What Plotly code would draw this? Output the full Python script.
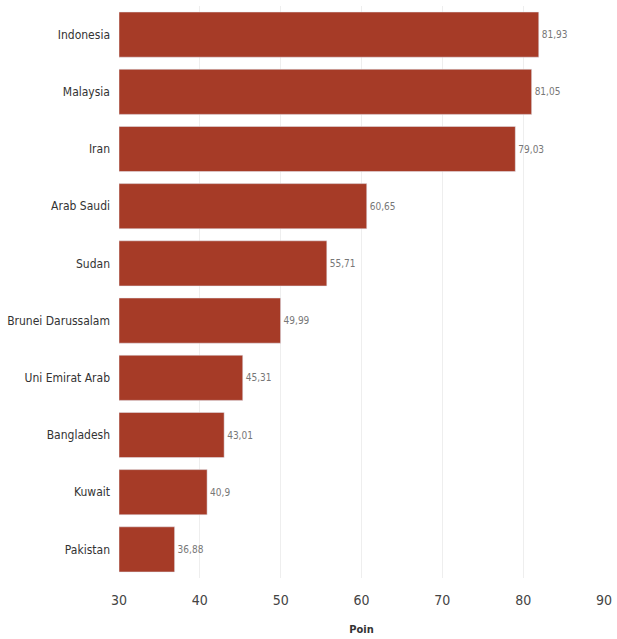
import plotly.graph_objects as go

countries = ["Indonesia", "Malaysia", "Iran", "Arab Saudi", "Sudan",
             "Brunei Darussalam", "Uni Emirat Arab", "Bangladesh", "Kuwait", "Pakistan"]
values = [81.93, 81.05, 79.03, 60.65, 55.71, 49.99, 45.31, 43.01, 40.9, 36.88]
labels = ["81,93", "81,05", "79,03", "60,65", "55,71", "49,99", "45,31", "43,01", "40,9", "36,88"]
xticks = [30, 40, 50, 60, 70, 80, 90]

fig = go.Figure(go.Bar(
    y=countries, x=values, orientation="h",
    base=30,
    marker=dict(color="#A63B27"),
    text=labels, textposition="outside", cliponaxis=False,
    textfont=dict(size=10, color="#777777", family="DejaVu Sans Condensed"),
))
fig.data[0].x = [v - 30 for v in values]
fig.update_layout(
    width=617, height=639,
    margin=dict(l=119, r=13, t=6, b=61),
    paper_bgcolor="white", plot_bgcolor="white",
    bargap=0.21, showlegend=False,
    font=dict(family="DejaVu Sans Condensed", color="#333333"),
)
fig.update_xaxes(range=[30, 90], tickvals=xticks, ticktext=[str(t) for t in xticks],
                 showgrid=True, gridcolor="#EEEEEE", zeroline=False,
                 tickfont=dict(size=14, color="#444444"),
                 title=dict(text="<b>Poin</b>", font=dict(size=11, color="#333333"), standoff=18),
                 ticks="", ticklabelstandoff=12)
fig.update_yaxes(autorange="reversed", showgrid=False,
                 tickfont=dict(size=12, color="#333333"), ticks="", ticklabelstandoff=8)
fig.write_html("out.html")
